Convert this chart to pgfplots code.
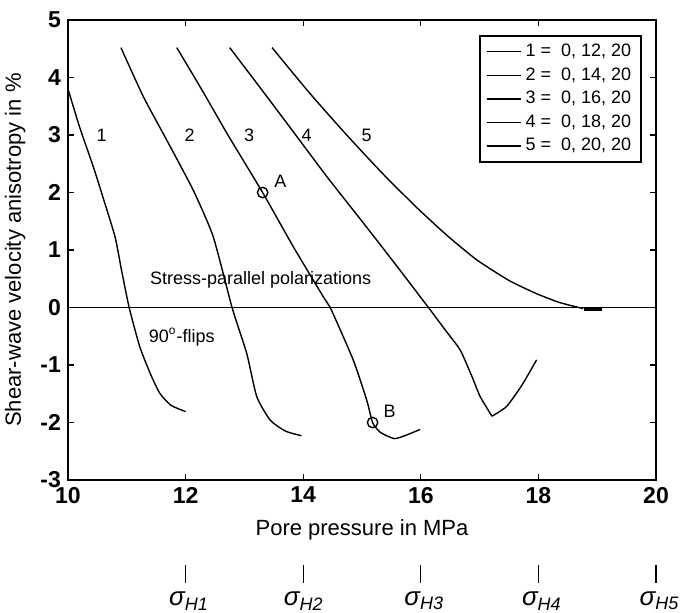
\documentclass[border=0pt]{standalone}
\usepackage{pgfplots}
\pgfplotsset{compat=1.18}
\usepackage{fontspec}
\setmainfont{Liberation Sans}
\begin{document}
\begin{tikzpicture}
\begin{axis}[
 scale only axis, width=294pt, height=230pt,
 xmin=10, xmax=20, ymin=-3, ymax=5,
 xtick={10,12,...,20}, ytick={-3,-2,...,5},
 tick align=inside, major tick length=3pt,
 axis line style={line width=0.9pt},
 every tick/.style={black, line width=0.6pt},
 /pgf/number format/assume math mode=true,
 ticklabel style={font=\fontsize{11.5}{13}\selectfont\bfseries},
 xlabel={Pore pressure in MPa},
 ylabel={Shear-wave velocity anisotropy in \%},
 label style={font=\fontsize{11}{13}\selectfont},
 xlabel style={at={(axis description cs:0.5,-0.109)}, anchor=center},
 ylabel style={at={(axis description cs:-0.09,0.5)}, anchor=center},
 legend style={at={(0.976,0.967)}, anchor=north east, font=\fontsize{9}{10.5}\selectfont, draw=black, line width=0.8pt, inner xsep=3pt, inner ysep=2pt},
 legend image post style={line width=0.7pt},
 legend cell align=left,
 clip=false,
]
\addplot[black, line width=0.7pt, smooth, tension=0.35] coordinates {(10,3.8)(10.2,3.13)(10.43,2.45)(10.6,1.9)(10.8,1.23)(10.91,0.65)(11.04,0)(11.22,-0.68)(11.4,-1.15)(11.56,-1.49)(11.75,-1.7)(12.0,-1.81)};
\addlegendentry{1 = \ 0, 12, 20}
\addplot[black, line width=0.7pt, smooth, tension=0.35] coordinates {(10.9,4.52)(11.28,3.67)(11.68,2.91)(12.13,2.04)(12.47,1.23)(12.79,0)(13.04,-0.8)(13.21,-1.55)(13.44,-1.96)(13.7,-2.15)(13.97,-2.23)};
\addlegendentry{2 = \ 0, 14, 20}
\addplot[black, line width=0.7pt, smooth, tension=0.35] coordinates {(11.85,4.52)(12.28,3.78)(12.72,3.0)(13.31,2.0)(13.83,1.06)(14.34,0.19)(14.46,0)(14.85,-0.91)(15.08,-1.61)(15.18,-2.0)(15.31,-2.17)(15.55,-2.28)(15.75,-2.22)(15.99,-2.12)};
\addlegendentry{3 = \ 0, 16, 20}
\addplot[black, line width=0.7pt, smooth, tension=0.35] coordinates {(12.75,4.52)(13.3,3.78)(13.8,3.1)(14.4,2.28)(15.0,1.5)(15.57,0.75)(16.13,0)(16.4,-0.37)(16.67,-0.74)(16.87,-1.2)(17.01,-1.55)(17.21,-1.89)};
\addlegendentry{4 = \ 0, 18, 20}
\addplot[black, line width=0.7pt, smooth, tension=0.35] coordinates {(13.47,4.52)(14.1,3.74)(14.74,3.0)(15.35,2.33)(15.95,1.72)(16.45,1.25)(16.95,0.83)(17.5,0.47)(17.97,0.24)(18.35,0.09)(18.65,0.01)(18.76,-0.02)};
\addlegendentry{5 = \ 0, 20, 20}
\addplot[black, line width=0.7pt, smooth, tension=0.35, forget plot] coordinates {(17.21,-1.89)(17.46,-1.72)(17.72,-1.35)(17.97,-0.91)};
\addplot[black, line width=1.6pt, forget plot] coordinates {(18.78,-0.03)(19.08,-0.03)};
\addplot[black, line width=0.7pt, forget plot] coordinates {(10,0)(20,0)};
\addplot[black, only marks, mark=o, mark size=2.6pt, mark options={line width=0.7pt}, forget plot] coordinates {(13.31,2.0)(15.18,-2.0)};
\node[font=\fontsize{9}{11}\selectfont] at (axis cs:10.57,3.0) {1};
\node[font=\fontsize{9}{11}\selectfont] at (axis cs:12.07,3.0) {2};
\node[font=\fontsize{9}{11}\selectfont] at (axis cs:13.08,3.0) {3};
\node[font=\fontsize{9}{11}\selectfont] at (axis cs:14.06,3.0) {4};
\node[font=\fontsize{9}{11}\selectfont] at (axis cs:15.08,3.0) {5};
\node[font=\fontsize{9}{11}\selectfont] at (axis cs:13.61,2.19) {A};
\node[font=\fontsize{9}{11}\selectfont] at (axis cs:15.47,-1.81) {B};
\node[font=\fontsize{9}{11}\selectfont, anchor=west, inner sep=0pt] at (axis cs:11.39,0.48) {Stress-parallel polarizations};
\node[font=\fontsize{9}{11}\selectfont, anchor=west, inner sep=0pt] at (axis cs:11.37,-0.51) {90\textsuperscript{o}-flips};
\draw[line width=0.6pt] (axis cs:12,-4.48) -- (axis cs:12,-4.79);
\draw[line width=0.6pt] (axis cs:14,-4.48) -- (axis cs:14,-4.79);
\draw[line width=0.6pt] (axis cs:16,-4.48) -- (axis cs:16,-4.79);
\draw[line width=0.6pt] (axis cs:18,-4.48) -- (axis cs:18,-4.79);
\draw[line width=0.6pt] (axis cs:20,-4.48) -- (axis cs:20,-4.79);
\node[font=\itshape\fontsize{13}{15}\selectfont] at (axis cs:12.05,-5.1) {σ\raisebox{-0.35ex}{\fontsize{9}{10}\selectfont H1}};
\node[font=\itshape\fontsize{13}{15}\selectfont] at (axis cs:14.0,-5.1) {σ\raisebox{-0.35ex}{\fontsize{9}{10}\selectfont H2}};
\node[font=\itshape\fontsize{13}{15}\selectfont] at (axis cs:16.05,-5.1) {σ\raisebox{-0.35ex}{\fontsize{9}{10}\selectfont H3}};
\node[font=\itshape\fontsize{13}{15}\selectfont] at (axis cs:18.05,-5.1) {σ\raisebox{-0.35ex}{\fontsize{9}{10}\selectfont H4}};
\node[font=\itshape\fontsize{13}{15}\selectfont] at (axis cs:20.05,-5.1) {σ\raisebox{-0.35ex}{\fontsize{9}{10}\selectfont H5}};
\end{axis}
\pgfresetboundingbox
\path ([shift={(-34pt,-66pt)}]current axis.south west) rectangle ([shift={(308.5pt,240pt)}]current axis.south west);
\end{tikzpicture}
\end{document}
